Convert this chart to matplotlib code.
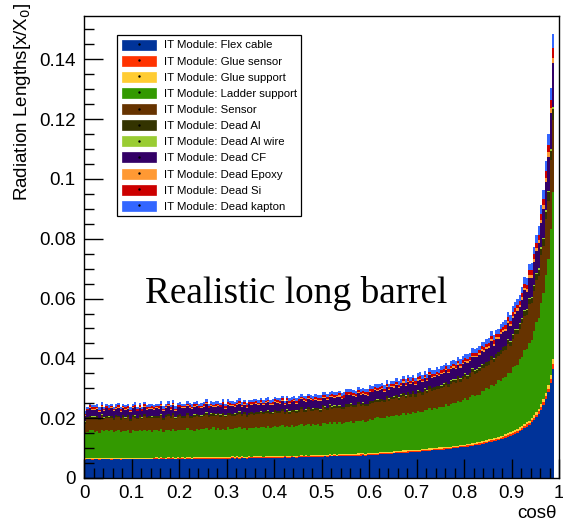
import numpy as np
import matplotlib
matplotlib.use("Agg")
import matplotlib.pyplot as plt
from matplotlib.patches import Patch
from matplotlib.lines import Line2D
from matplotlib.ticker import MultipleLocator, FuncFormatter

plt.rcParams['font.family'] = ['Liberation Sans', 'DejaVu Sans']

# Radiation length per bin of cos(theta), in units of 1e-4 X0.
# 198 bins of width 0.005 covering 0 <= cos(theta) < 0.99.
UNIT = 1e-4
X_MIN, X_MAX = 0.0, 0.99

flex_cable = [
    61, 62, 62, 61, 62, 62, 61, 62, 62, 62,
    62, 61, 62, 62, 62, 61, 62, 62, 62, 62,
    62, 62, 63, 62, 62, 62, 63, 62, 62, 63,
    63, 62, 63, 63, 62, 63, 63, 63, 63, 63,
    63, 64, 63, 64, 64, 63, 64, 64, 64, 64,
    64, 64, 65, 64, 65, 64, 65, 65, 64, 65,
    65, 65, 66, 65, 66, 65, 66, 66, 65, 66,
    66, 67, 66, 67, 67, 66, 67, 67, 67, 68,
    68, 67, 68, 68, 69, 68, 68, 69, 69, 68,
    69, 70, 69, 70, 70, 70, 71, 70, 71, 71,
    71, 72, 71, 72, 72, 73, 72, 73, 73, 73,
    74, 73, 74, 75, 74, 75, 75, 76, 75, 76,
    77, 77, 78, 78, 79, 79, 80, 80, 81, 81,
    82, 82, 83, 83, 84, 85, 85, 86, 87, 87,
    87, 88, 89, 90, 90, 91, 92, 92, 93, 94,
    94, 95, 96, 97, 98, 99, 100, 100, 102, 103,
    104, 105, 106, 108, 109, 110, 112, 113, 115, 117,
    119, 121, 123, 125, 127, 129, 132, 135, 137, 141,
    144, 148, 152, 156, 161, 166, 172, 178, 186, 194,
    204, 215, 229, 245, 264, 287, 318, 365,
]

glue_sensor = [
    3, 2, 3, 3, 2, 3, 3, 2, 3, 3,
    2, 3, 3, 3, 2, 3, 2, 3, 3, 2,
    3, 3, 2, 3, 3, 3, 2, 3, 2, 3,
    3, 2, 3, 3, 2, 3, 3, 3, 2, 3,
    3, 3, 2, 3, 3, 2, 3, 3, 3, 2,
    3, 2, 3, 3, 3, 2, 3, 3, 2, 3,
    3, 3, 3, 2, 3, 3, 3, 2, 3, 3,
    3, 2, 3, 3, 3, 3, 2, 3, 3, 3,
    3, 3, 2, 3, 3, 3, 3, 3, 2, 3,
    3, 3, 3, 3, 2, 3, 3, 3, 3, 3,
    3, 3, 3, 4, 3, 3, 3, 3, 4, 3,
    3, 3, 4, 3, 3, 3, 4, 3, 3, 3,
    3, 4, 3, 3, 4, 3, 4, 3, 3, 4,
    3, 4, 3, 4, 4, 3, 4, 3, 4, 4,
    4, 3, 4, 4, 4, 4, 3, 4, 4, 4,
    4, 4, 4, 4, 3, 4, 4, 4, 4, 4,
    4, 4, 4, 4, 5, 4, 5, 5, 5, 5,
    5, 5, 5, 5, 5, 5, 5, 6, 6, 6,
    6, 6, 6, 6, 7, 7, 7, 7, 8, 8,
    8, 9, 9, 10, 11, 12, 13, 16,
]

glue_support = [
    2, 3, 3, 2, 3, 3, 2, 3, 3, 2,
    3, 3, 2, 3, 3, 2, 3, 3, 3, 2,
    3, 2, 3, 3, 3, 2, 3, 3, 3, 2,
    3, 3, 3, 2, 3, 3, 2, 3, 3, 3,
    2, 3, 3, 3, 2, 3, 3, 3, 2, 3,
    3, 3, 2, 3, 3, 3, 3, 2, 3, 3,
    3, 2, 3, 3, 3, 3, 3, 2, 3, 3,
    2, 3, 3, 3, 3, 2, 3, 3, 3, 3,
    3, 3, 3, 2, 3, 3, 3, 3, 3, 2,
    3, 3, 3, 3, 3, 3, 2, 3, 3, 3,
    3, 3, 4, 3, 3, 3, 3, 4, 3, 3,
    3, 4, 3, 3, 3, 4, 3, 3, 3, 4,
    3, 3, 4, 3, 3, 4, 3, 4, 3, 3,
    4, 3, 4, 3, 4, 4, 3, 4, 4, 3,
    4, 4, 3, 4, 4, 4, 4, 3, 4, 4,
    4, 4, 4, 4, 4, 4, 3, 4, 4, 4,
    4, 4, 4, 5, 4, 5, 4, 5, 5, 5,
    5, 5, 5, 5, 6, 5, 5, 6, 6, 6,
    6, 6, 6, 7, 6, 7, 7, 7, 7, 8,
    8, 8, 9, 10, 10, 12, 13, 16,
]

ladder_support = [
    80, 87, 91, 94, 88, 90, 86, 93, 89, 92,
    89, 93, 88, 90, 94, 87, 91, 88, 92, 86,
    94, 91, 88, 93, 90, 95, 89, 92, 87, 92,
    91, 89, 94, 87, 92, 93, 90, 95, 88, 91,
    94, 89, 93, 96, 90, 92, 88, 95, 91, 94,
    93, 97, 92, 94, 98, 91, 95, 92, 96, 90,
    98, 95, 92, 97, 94, 99, 93, 96, 91, 96,
    97, 95, 100, 93, 98, 99, 96, 101, 94, 97,
    101, 96, 100, 103, 97, 99, 95, 102, 98, 101,
    101, 105, 100, 102, 106, 99, 103, 100, 104, 98,
    108, 105, 102, 107, 104, 109, 103, 106, 101, 106,
    108, 106, 111, 104, 109, 110, 107, 112, 105, 108,
    115, 111, 115, 119, 113, 116, 112, 120, 116, 120,
    118, 123, 118, 121, 126, 120, 125, 122, 127, 122,
    129, 127, 125, 131, 129, 135, 130, 134, 130, 136,
    136, 135, 142, 136, 143, 145, 144, 150, 145, 149,
    154, 149, 156, 162, 155, 160, 156, 169, 165, 173,
    170, 179, 175, 181, 190, 184, 193, 192, 203, 198,
    215, 214, 214, 230, 231, 249, 245, 261, 261, 283,
    301, 304, 338, 352, 394, 421, 488, 560,
]

sensor = [
    36, 45, 42, 39, 44, 43, 41, 46, 40, 42,
    44, 41, 39, 45, 42, 40, 46, 41, 43, 39,
    42, 44, 40, 43, 38, 45, 42, 41, 45, 40,
    41, 46, 43, 40, 45, 44, 42, 47, 41, 43,
    45, 42, 40, 46, 43, 41, 47, 42, 44, 40,
    44, 46, 42, 45, 40, 47, 44, 43, 47, 42,
    42, 47, 44, 41, 46, 45, 43, 48, 42, 44,
    47, 44, 42, 48, 45, 43, 49, 44, 46, 42,
    46, 48, 44, 47, 42, 49, 46, 45, 49, 44,
    45, 50, 47, 44, 49, 48, 46, 51, 45, 47,
    51, 48, 46, 52, 49, 47, 53, 48, 50, 46,
    51, 53, 49, 52, 47, 54, 51, 50, 54, 49,
    51, 56, 53, 51, 56, 55, 54, 59, 53, 55,
    57, 55, 53, 60, 57, 55, 62, 57, 60, 56,
    59, 61, 58, 61, 57, 64, 62, 61, 66, 61,
    62, 67, 65, 63, 68, 68, 67, 72, 67, 70,
    72, 70, 69, 76, 74, 73, 80, 76, 79, 76,
    80, 85, 80, 86, 80, 92, 89, 89, 97, 92,
    94, 106, 103, 100, 113, 114, 114, 129, 122, 131,
    142, 140, 160, 158, 186, 194, 230, 240,
]

dead_al = [
    6, 5, 7, 6, 6, 5, 7, 6, 5, 6,
    5, 6, 6, 7, 5, 6, 6, 5, 7, 6,
    6, 7, 5, 6, 6, 6, 5, 7, 6, 6,
    7, 6, 6, 5, 6, 7, 6, 6, 5, 7,
    6, 6, 7, 6, 5, 6, 7, 6, 6, 6,
    6, 7, 6, 6, 7, 5, 6, 7, 6, 6,
    7, 6, 6, 7, 6, 7, 6, 6, 7, 6,
    6, 7, 7, 6, 6, 7, 6, 7, 7, 6,
    7, 6, 7, 7, 6, 7, 7, 6, 7, 7,
    7, 7, 6, 7, 7, 8, 7, 6, 7, 7,
    7, 8, 7, 7, 8, 7, 7, 8, 7, 7,
    8, 7, 8, 7, 8, 7, 8, 8, 7, 8,
    8, 7, 8, 8, 8, 7, 8, 8, 9, 8,
    8, 9, 8, 8, 9, 8, 9, 8, 9, 8,
    9, 8, 9, 9, 8, 9, 9, 10, 9, 9,
    9, 10, 9, 10, 10, 9, 10, 10, 10, 10,
    10, 10, 11, 10, 11, 10, 11, 11, 11, 11,
    11, 12, 11, 12, 12, 12, 13, 12, 13, 13,
    14, 14, 15, 15, 15, 16, 17, 17, 18, 19,
    20, 21, 22, 24, 26, 29, 32, 38,
]

dead_al_wire = [
    1, 1, 1, 1, 1, 1, 1, 1, 1, 1,
    1, 1, 1, 1, 1, 1, 1, 1, 1, 1,
    1, 1, 1, 1, 1, 1, 1, 1, 1, 1,
    1, 1, 1, 1, 1, 1, 1, 1, 1, 1,
    1, 1, 1, 1, 1, 1, 1, 1, 1, 1,
    1, 1, 1, 1, 1, 1, 1, 1, 1, 1,
    1, 1, 1, 1, 1, 1, 1, 1, 1, 1,
    1, 1, 1, 1, 1, 1, 1, 1, 1, 1,
    1, 1, 1, 1, 1, 1, 1, 1, 1, 1,
    1, 1, 1, 1, 1, 1, 1, 1, 1, 1,
    1, 1, 1, 1, 1, 1, 1, 1, 1, 1,
    1, 1, 1, 1, 1, 1, 1, 1, 1, 1,
    1, 1, 1, 1, 1, 1, 1, 1, 1, 1,
    1, 1, 1, 1, 1, 1, 1, 1, 1, 1,
    1, 1, 1, 1, 1, 1, 1, 1, 1, 1,
    1, 2, 1, 2, 2, 1, 2, 2, 2, 2,
    2, 2, 2, 2, 2, 2, 2, 2, 2, 2,
    2, 2, 2, 2, 2, 2, 2, 3, 2, 2,
    2, 3, 2, 3, 3, 3, 3, 3, 3, 3,
    3, 4, 4, 4, 5, 5, 6, 6,
]

dead_cf = [
    18, 21, 26, 22, 23, 25, 20, 24, 21, 25,
    21, 25, 23, 20, 26, 22, 24, 25, 21, 23,
    23, 26, 21, 24, 20, 25, 23, 22, 26, 21,
    25, 22, 27, 23, 24, 26, 21, 25, 22, 26,
    22, 26, 24, 21, 27, 23, 25, 26, 22, 24,
    24, 27, 22, 25, 21, 26, 24, 23, 27, 22,
    26, 23, 26, 22, 25, 25, 22, 24, 23, 27,
    23, 27, 25, 22, 28, 24, 26, 27, 23, 25,
    25, 28, 23, 26, 22, 27, 25, 24, 28, 23,
    27, 24, 29, 25, 26, 28, 23, 27, 24, 28,
    25, 29, 27, 24, 30, 26, 28, 29, 25, 27,
    28, 31, 26, 29, 25, 30, 28, 27, 31, 26,
    30, 27, 32, 28, 29, 31, 26, 30, 27, 31,
    29, 33, 31, 28, 34, 30, 32, 33, 29, 31,
    33, 36, 31, 34, 30, 35, 33, 32, 36, 31,
    37, 34, 39, 35, 36, 38, 33, 37, 34, 38,
    37, 41, 39, 37, 43, 40, 43, 44, 41, 43,
    44, 49, 42, 48, 43, 51, 49, 48, 55, 49,
    55, 51, 62, 56, 60, 66, 58, 68, 65, 76,
    72, 85, 82, 97, 95, 115, 120, 146,
]

dead_epoxy = [
    3, 2, 3, 3, 2, 3, 2, 3, 3, 2,
    2, 3, 3, 2, 3, 3, 2, 3, 2, 3,
    3, 3, 2, 3, 2, 3, 3, 2, 3, 3,
    2, 3, 3, 3, 2, 3, 2, 3, 3, 2,
    3, 2, 3, 3, 3, 2, 3, 3, 2, 3,
    3, 3, 2, 3, 3, 3, 2, 3, 3, 3,
    3, 3, 3, 2, 3, 3, 3, 3, 2, 3,
    3, 3, 3, 3, 3, 2, 3, 3, 3, 3,
    3, 3, 3, 3, 3, 3, 3, 2, 3, 3,
    3, 3, 3, 3, 3, 3, 3, 3, 3, 3,
    3, 3, 4, 3, 3, 3, 3, 4, 3, 3,
    3, 4, 3, 3, 4, 3, 3, 4, 3, 4,
    4, 3, 4, 4, 3, 4, 4, 3, 4, 4,
    4, 4, 4, 3, 4, 4, 4, 4, 4, 4,
    4, 4, 5, 4, 4, 4, 5, 4, 5, 4,
    5, 4, 5, 5, 4, 5, 5, 5, 5, 5,
    5, 5, 5, 5, 6, 5, 5, 6, 5, 6,
    6, 6, 6, 6, 6, 7, 6, 7, 7, 7,
    7, 7, 8, 7, 8, 8, 8, 9, 9, 9,
    10, 10, 11, 12, 13, 14, 16, 19,
]

dead_si = [
    5, 4, 5, 5, 6, 4, 5, 5, 4, 6,
    5, 5, 4, 6, 5, 5, 4, 5, 6, 5,
    4, 5, 5, 6, 5, 4, 5, 6, 5, 5,
    5, 6, 4, 5, 5, 5, 6, 5, 4, 5,
    6, 5, 5, 4, 6, 5, 5, 6, 5, 5,
    5, 5, 6, 5, 4, 6, 5, 5, 6, 5,
    6, 5, 5, 6, 5, 6, 5, 5, 6, 5,
    5, 6, 6, 5, 6, 5, 6, 6, 5, 6,
    6, 5, 6, 6, 5, 6, 6, 6, 5, 6,
    6, 6, 5, 6, 6, 6, 6, 7, 6, 6,
    6, 7, 6, 6, 7, 6, 6, 7, 6, 7,
    7, 6, 7, 7, 6, 7, 7, 7, 6, 7,
    7, 7, 6, 7, 7, 8, 7, 7, 7, 8,
    7, 8, 7, 8, 7, 8, 8, 7, 8, 8,
    8, 8, 7, 8, 8, 8, 9, 8, 8, 8,
    8, 9, 8, 9, 8, 9, 9, 8, 9, 9,
    9, 9, 9, 10, 9, 10, 9, 10, 10, 10,
    10, 10, 11, 10, 11, 11, 11, 12, 11, 12,
    12, 13, 12, 13, 14, 14, 15, 15, 16, 17,
    17, 18, 19, 20, 22, 24, 28, 33,
]

dead_kapton = [
    8, 7, 9, 8, 8, 7, 9, 8, 7, 8,
    9, 8, 7, 8, 9, 8, 8, 7, 9, 8,
    8, 9, 8, 7, 8, 9, 8, 8, 9, 7,
    8, 8, 9, 8, 7, 9, 8, 9, 8, 8,
    9, 8, 8, 9, 8, 8, 7, 9, 8, 9,
    8, 9, 8, 8, 9, 8, 9, 8, 9, 8,
    9, 8, 9, 9, 8, 9, 8, 9, 9, 8,
    9, 9, 8, 9, 9, 8, 9, 9, 10, 9,
    9, 9, 10, 9, 8, 9, 10, 9, 9, 10,
    10, 9, 9, 10, 9, 10, 9, 10, 10, 9,
    10, 10, 9, 10, 11, 10, 10, 9, 10, 11,
    10, 11, 10, 10, 11, 10, 11, 11, 10, 11,
    11, 10, 11, 11, 12, 11, 11, 12, 11, 11,
    12, 11, 12, 12, 11, 12, 12, 13, 12, 12,
    12, 13, 12, 13, 13, 12, 13, 13, 14, 13,
    13, 14, 13, 14, 14, 13, 14, 14, 15, 14,
    14, 15, 14, 15, 15, 15, 16, 15, 16, 16,
    16, 16, 17, 16, 17, 17, 18, 17, 18, 18,
    19, 19, 20, 20, 21, 22, 22, 23, 24, 25,
    26, 28, 29, 32, 34, 38, 40, 45,
]

labels = [
    "IT Module: Flex cable",
    "IT Module: Glue sensor",
    "IT Module: Glue support",
    "IT Module: Ladder support",
    "IT Module: Sensor",
    "IT Module: Dead Al",
    "IT Module: Dead Al wire",
    "IT Module: Dead CF",
    "IT Module: Dead Epoxy",
    "IT Module: Dead Si",
    "IT Module: Dead kapton",
]
series = [flex_cable, glue_sensor, glue_support, ladder_support, sensor,
          dead_al, dead_al_wire, dead_cf, dead_epoxy, dead_si, dead_kapton]
colors = ["#003399", "#ff3300", "#ffcc33", "#339900", "#663300",
          "#333300", "#99cc33", "#330066", "#ff9933", "#cc0000", "#3366ff"]

# ---- figure -------------------------------------------------------------
W, H = 563, 522
fig = plt.figure(figsize=(W / 100, H / 100), dpi=100)
ax = fig.add_axes([84 / W, 1 - 478 / H, (559 - 84) / W, (478 - 16) / H])

data = np.array(series, dtype=float) * UNIT
tops = np.cumsum(data, axis=0)
edges = np.linspace(X_MIN, X_MAX, data.shape[1] + 1)

# Paint each cumulative outline from the top layer down so that every
# layer covers the ones beneath it without seams.
for k in range(len(series) - 1, -1, -1):
    ax.stairs(tops[k], edges, baseline=0, fill=True,
              facecolor=colors[k], edgecolor="none", linewidth=0)

ax.set_xlim(0, 1)
ax.set_ylim(0, 0.1545)

ax.xaxis.set_major_locator(MultipleLocator(0.1))
ax.xaxis.set_minor_locator(MultipleLocator(0.02))
ax.yaxis.set_major_locator(MultipleLocator(0.02))
ax.yaxis.set_minor_locator(MultipleLocator(0.005))
fmt = FuncFormatter(lambda v, _: "%g" % round(v, 4))
ax.xaxis.set_major_formatter(fmt)
ax.yaxis.set_major_formatter(fmt)

ax.tick_params(which="both", direction="in", top=False, right=False,
               width=1, colors="black")
ax.tick_params(which="major", length=14)
ax.tick_params(which="minor", length=7)
ax.tick_params(axis="y", which="major", labelsize=13.5, pad=6)
ax.tick_params(axis="x", which="major", labelsize=13.5, pad=5)
for s in ax.spines.values():
    s.set_linewidth(1.0)

ax.set_ylabel("Radiation Lengths[x/X$_0$]", fontsize=13.5, loc="top")
ax.yaxis.set_label_coords(-0.107, 1.028)
ax.set_xlabel("cos\u03b8", fontsize=13.5, loc="right")
ax.xaxis.set_label_coords(0.996, -0.058)

ax.text(0.446, 0.40, "Realistic long barrel", transform=ax.transAxes,
        ha="center", va="center", fontsize=26.8, family="Liberation Serif")

handles = [(Patch(facecolor=c, edgecolor=c, linewidth=0.5),
            Line2D([], [], marker=".", color="black", markersize=1.5, linestyle="none"))
           for c in colors]
leg = fig.legend(handles, labels, loc="upper left",
                 bbox_to_anchor=(117 / W, 1 - 35 / H),
                 fontsize=8.2, frameon=True, fancybox=False, shadow=False,
                 handlelength=3.0, handleheight=0.97, handletextpad=0.7,
                 labelspacing=0.46, borderpad=0.4, borderaxespad=0,
                 edgecolor="black", facecolor="white", framealpha=1)
leg.get_frame().set_linewidth(0.9)
leg._legend_box.align = "left"

fig.savefig("out.png", dpi=100)
